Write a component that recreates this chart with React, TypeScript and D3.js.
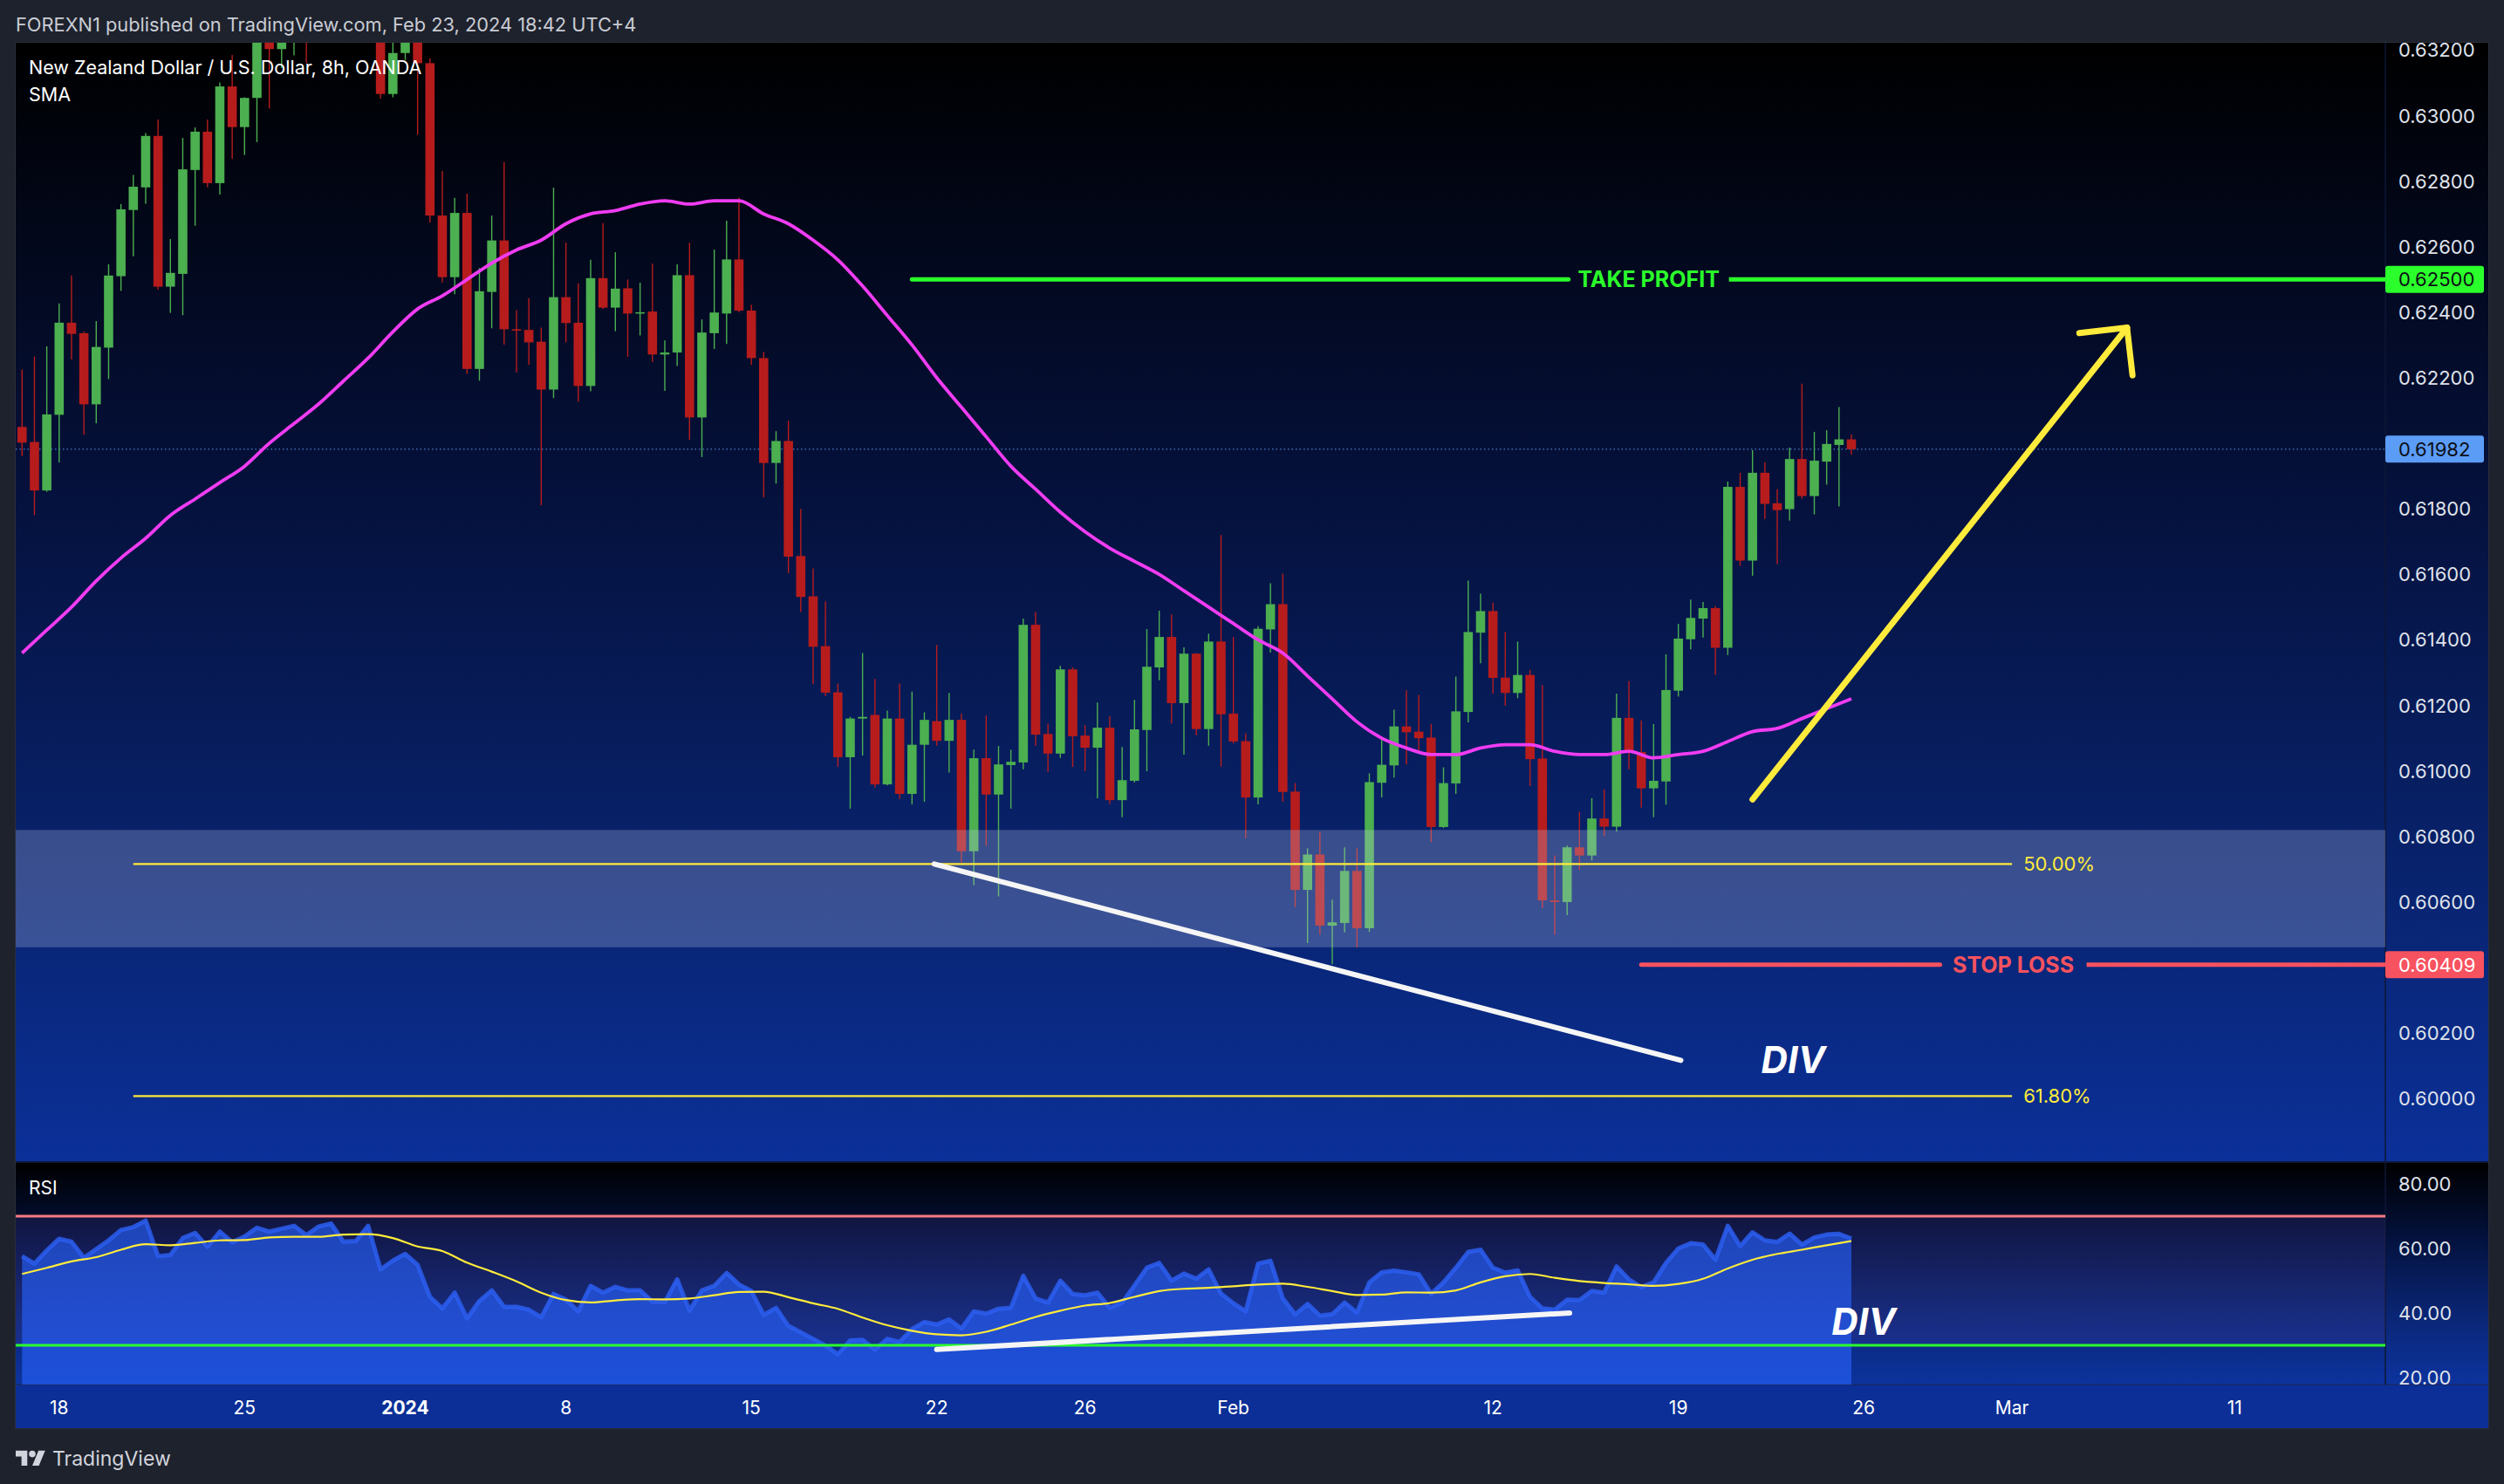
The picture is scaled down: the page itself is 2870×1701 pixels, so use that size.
import React, { useEffect } from "react";
import * as d3 from "d3";

// NZDUSD 8h candles, bar index 0..148 (bars 19-32 run above the visible range)
const opens = [
  0.6205, 0.62004, 0.61856, 0.62087, 0.62368, 0.62336, 0.62119, 0.62292, 0.6251, 0.62712,
  0.62781, 0.62938, 0.62478, 0.62517, 0.62834, 0.62951, 0.62794, 0.63089, 0.62965, 0.63054,
  0.633, 0.63203, 0.6332, 0.634, 0.633, 0.6342, 0.635, 0.634, 0.6333, 0.6338,
  0.63066, 0.63191, 0.6328, 0.6316, 0.62695, 0.62507, 0.62703, 0.62227, 0.62462, 0.62619,
  0.62348, 0.62346, 0.6231, 0.62164, 0.62446, 0.62368, 0.62175, 0.62504, 0.62414, 0.62473,
  0.62396, 0.62402, 0.62271, 0.62277, 0.62513, 0.62079, 0.62336, 0.62396, 0.62561, 0.62405,
  0.6226, 0.6194, 0.62007, 0.61656, 0.61533, 0.61381, 0.6124, 0.61042, 0.6116, 0.61171,
  0.60959, 0.6116, 0.6093, 0.6108, 0.61152, 0.61092, 0.61156, 0.60755, 0.61039, 0.60928,
  0.61018, 0.61026, 0.61446, 0.61113, 0.61053, 0.6131, 0.61108, 0.61071, 0.61132, 0.60911,
  0.6097, 0.61125, 0.61316, 0.61409, 0.61207, 0.61358, 0.61128, 0.61395, 0.61175, 0.61091,
  0.60919, 0.61432, 0.61509, 0.60937, 0.60637, 0.60745, 0.60528, 0.60536, 0.60695, 0.6052,
  0.60964, 0.61017, 0.61136, 0.6112, 0.61102, 0.60829, 0.60962, 0.6118, 0.61422, 0.61488,
  0.61285, 0.61238, 0.61293, 0.61038, 0.60605, 0.606, 0.60767, 0.60742, 0.60855, 0.6083,
  0.61162, 0.61058, 0.60947, 0.60968, 0.61245, 0.61402, 0.61465, 0.61497, 0.61376, 0.61867,
  0.61642, 0.6191, 0.61817, 0.61799, 0.61952, 0.61839, 0.61944, 0.61995, 0.62012,
];
const highs = [
  0.62225, 0.62265, 0.62296, 0.62427, 0.62512, 0.62341, 0.62373, 0.62546, 0.6273, 0.62819,
  0.62947, 0.62988, 0.62623, 0.62932, 0.62964, 0.62988, 0.63101, 0.63185, 0.63056, 0.633,
  0.6338, 0.634, 0.6345, 0.6348, 0.635, 0.6356, 0.6358, 0.6346, 0.6344, 0.6344,
  0.6326, 0.6334, 0.6334, 0.63175, 0.62831, 0.62749, 0.62762, 0.62535, 0.62695, 0.62858,
  0.62406, 0.62443, 0.62353, 0.6278, 0.62613, 0.62488, 0.6256, 0.62672, 0.62583, 0.625,
  0.6249, 0.62548, 0.62314, 0.62546, 0.62612, 0.62378, 0.62591, 0.62679, 0.6275, 0.62423,
  0.62279, 0.62037, 0.62069, 0.618, 0.61618, 0.61517, 0.61267, 0.61165, 0.6136, 0.61281,
  0.61184, 0.61267, 0.61242, 0.61179, 0.61385, 0.61238, 0.61175, 0.61065, 0.61169, 0.61076,
  0.61065, 0.61465, 0.61486, 0.61145, 0.61321, 0.61316, 0.6114, 0.61209, 0.61167, 0.61073,
  0.61217, 0.61433, 0.61489, 0.61478, 0.61377, 0.6136, 0.61419, 0.6172, 0.61409, 0.61115,
  0.61442, 0.61573, 0.61602, 0.60963, 0.60764, 0.60814, 0.60607, 0.60767, 0.60764, 0.60993,
  0.611, 0.61187, 0.61246, 0.61232, 0.61144, 0.61011, 0.61288, 0.61581, 0.61541, 0.61514,
  0.61424, 0.61395, 0.61309, 0.61262, 0.60742, 0.60772, 0.60876, 0.60917, 0.60944, 0.61236,
  0.61274, 0.61154, 0.61143, 0.61356, 0.61449, 0.61523, 0.61516, 0.61503, 0.61883, 0.6191,
  0.61979, 0.61942, 0.6186, 0.61987, 0.62182, 0.62035, 0.6204, 0.62111, 0.62027,
];
const lows = [
  0.61961, 0.61781, 0.61852, 0.61942, 0.62256, 0.62026, 0.62061, 0.62196, 0.62465, 0.62571,
  0.62731, 0.62469, 0.62398, 0.62391, 0.62664, 0.62781, 0.62759, 0.62868, 0.6288, 0.62919,
  0.63022, 0.63145, 0.63184, 0.6316, 0.6325, 0.6336, 0.6334, 0.6326, 0.6328, 0.63051,
  0.63056, 0.6317, 0.62942, 0.62674, 0.62491, 0.62455, 0.62212, 0.62191, 0.62351, 0.62301,
  0.62216, 0.62239, 0.61811, 0.62138, 0.62308, 0.62127, 0.62159, 0.6241, 0.62342, 0.62264,
  0.62329, 0.62248, 0.6216, 0.62236, 0.62011, 0.61958, 0.62288, 0.62303, 0.624, 0.62239,
  0.61835, 0.61877, 0.61604, 0.61485, 0.61265, 0.61228, 0.61013, 0.60885, 0.61047, 0.60949,
  0.60956, 0.60914, 0.60898, 0.60906, 0.61077, 0.60995, 0.6072, 0.60651, 0.60771, 0.60617,
  0.60885, 0.61005, 0.61077, 0.60997, 0.6104, 0.61012, 0.60999, 0.60917, 0.60899, 0.60859,
  0.60965, 0.60999, 0.61277, 0.61145, 0.6105, 0.61109, 0.61077, 0.61013, 0.61084, 0.60794,
  0.60898, 0.61361, 0.60906, 0.60584, 0.60475, 0.60501, 0.6041, 0.60507, 0.60461, 0.60509,
  0.60919, 0.6098, 0.6102, 0.6106, 0.60783, 0.60826, 0.6093, 0.61148, 0.61329, 0.61236,
  0.61199, 0.61222, 0.60954, 0.60581, 0.605, 0.6056, 0.60698, 0.60727, 0.60801, 0.60815,
  0.61005, 0.60888, 0.60859, 0.60897, 0.61227, 0.61371, 0.61407, 0.61293, 0.61354, 0.61626,
  0.61596, 0.61769, 0.61631, 0.61764, 0.61831, 0.61783, 0.61874, 0.61807, 0.61965,
];
const closes = [
  0.62002, 0.61856, 0.62088, 0.62368, 0.62334, 0.62119, 0.62294, 0.62512, 0.62714, 0.62783,
  0.62938, 0.62478, 0.6252, 0.62836, 0.62951, 0.62794, 0.63089, 0.62965, 0.63054, 0.6326,
  0.63203, 0.6332, 0.634, 0.633, 0.6342, 0.635, 0.634, 0.6333, 0.6338, 0.63066,
  0.63191, 0.6328, 0.6316, 0.62695, 0.62507, 0.62703, 0.62227, 0.62464, 0.62619, 0.62348,
  0.62346, 0.62308, 0.62164, 0.62446, 0.62367, 0.62175, 0.62504, 0.62414, 0.62472, 0.62396,
  0.624, 0.62271, 0.62277, 0.62513, 0.62079, 0.62338, 0.62399, 0.62561, 0.62405, 0.6226,
  0.6194, 0.62007, 0.61654, 0.61531, 0.61379, 0.61239, 0.61042, 0.6116, 0.61165, 0.60959,
  0.6116, 0.6093, 0.6108, 0.61156, 0.61092, 0.61156, 0.60755, 0.61039, 0.60928, 0.6102,
  0.61028, 0.61446, 0.61111, 0.61053, 0.6131, 0.61106, 0.61071, 0.61132, 0.60911, 0.60972,
  0.61127, 0.61318, 0.61409, 0.61207, 0.61358, 0.61128, 0.61395, 0.61173, 0.6109, 0.60919,
  0.61434, 0.61509, 0.60936, 0.60637, 0.60745, 0.60528, 0.60538, 0.60695, 0.6052, 0.60966,
  0.61019, 0.61136, 0.61118, 0.611, 0.60829, 0.60963, 0.61182, 0.61424, 0.61488, 0.61284,
  0.61238, 0.61293, 0.61036, 0.60605, 0.606, 0.60767, 0.60742, 0.60855, 0.6083, 0.61162,
  0.61058, 0.60947, 0.6097, 0.61247, 0.61404, 0.61467, 0.61497, 0.61376, 0.61867, 0.61642,
  0.6191, 0.61815, 0.61796, 0.61952, 0.61839, 0.61947, 0.61998, 0.62012, 0.61982,
];

// SMA read at every second bar (0, 2, 4 ... 148)
const smaEven = [
  0.6136, 0.6143, 0.615, 0.6158, 0.6165, 0.6171, 0.6178, 0.6183, 0.6188, 0.6193,
  0.62, 0.6206, 0.6212, 0.6219, 0.6226, 0.6234, 0.6241, 0.6245, 0.625, 0.6255,
  0.6259, 0.6262, 0.6267, 0.627, 0.6271, 0.6273, 0.6274, 0.6273, 0.6274, 0.6274,
  0.627, 0.6267, 0.6262, 0.6256, 0.6248, 0.6239, 0.623, 0.622, 0.6211, 0.6202,
  0.6193, 0.6186, 0.6179, 0.6173, 0.6168, 0.6164, 0.616, 0.6155, 0.615, 0.6145,
  0.614, 0.6136, 0.6129, 0.6122, 0.6115, 0.611, 0.6107, 0.6105, 0.6105, 0.6107,
  0.6108, 0.6108, 0.6106, 0.6105, 0.6105, 0.6106, 0.6104, 0.6105, 0.6106, 0.6109,
  0.6112, 0.6113, 0.6116, 0.6119, 0.6122,
];

// RSI per bar
const rsi = [
  57.6, 55.3, 59.4, 63.0, 62.1, 57.1, 59.8, 62.5, 65.7, 66.6,
  68.6, 57.6, 58.0, 63.2, 64.8, 60.5, 65.2, 61.9, 63.7, 66.4,
  65.2, 66.1, 67.0, 64.1, 66.8, 67.7, 62.1, 62.3, 67.0, 53.5,
  56.2, 58.3, 54.9, 45.0, 41.4, 46.3, 38.3, 43.7, 47.0, 41.9,
  41.9, 41.0, 38.7, 45.9, 44.1, 40.5, 48.4, 46.3, 48.1, 47.0,
  47.0, 43.5, 43.4, 50.4, 40.7, 47.0, 48.4, 52.4, 48.8, 46.8,
  39.4, 41.6, 36.0, 34.0, 32.0, 29.9, 27.2, 31.5, 31.7, 28.6,
  32.0, 31.0, 35.0, 37.2, 36.4, 38.0, 35.2, 40.5, 39.8, 41.3,
  41.6, 51.5, 44.5, 43.2, 50.0, 45.9, 45.5, 46.3, 41.6, 43.2,
  48.5, 54.0, 55.5, 50.0, 52.2, 50.6, 53.5, 46.0, 43.0, 40.5,
  55.3, 56.2, 44.5, 39.5, 42.8, 39.2, 39.6, 43.2, 40.1, 49.5,
  52.6, 53.1, 52.6, 52.0, 45.9, 49.5, 54.0, 58.9, 59.6, 54.0,
  52.5, 53.2, 45.0, 41.4, 41.0, 44.1, 44.0, 46.8, 46.3, 54.4,
  50.4, 48.0, 49.5, 55.5, 60.0, 61.6, 61.2, 56.5, 67.0, 60.7,
  65.0, 62.5, 62.0, 64.6, 61.2, 63.4, 64.3, 64.5, 63.0,
];

// RSI moving average read at every second bar
const rsiMaEven = [
  52.1, 54.0, 56.0, 57.3, 59.6, 61.3, 61.0, 61.7, 62.5, 62.6,
  63.4, 63.6, 63.6, 64.3, 64.4, 63.2, 60.6, 59.2, 55.6, 52.8,
  49.8, 46.3, 44.0, 43.3, 43.9, 44.3, 44.2, 44.5, 45.5, 46.5,
  46.6, 44.9, 43.0, 41.3, 38.6, 36.2, 34.5, 33.4, 33.1, 34.2,
  36.4, 38.8, 40.7, 42.3, 43.1, 45.0, 46.8, 47.5, 47.8, 48.3,
  48.8, 49.1, 48.1, 46.8, 45.6, 45.7, 46.4, 46.3, 47.0, 49.5,
  51.4, 52.1, 50.9, 49.9, 49.3, 48.9, 48.4, 49.0, 50.6, 53.8,
  56.5, 58.3, 59.6, 61.0, 62.3,
];

const priceTicks = [0.632, 0.63, 0.628, 0.626, 0.624, 0.622, 0.618, 0.616, 0.614, 0.612, 0.61, 0.608, 0.606, 0.602, 0.6];
const rsiTicks = [80, 60, 40, 20];
const timeTickBars = [3, 18, 31, 44, 59, 74, 86, 98, 119, 134, 149, 161, 179];
const timeTickLabels = ["18", "25", "2024", "8", "15", "22", "26", "Feb", "12", "19", "26", "Mar", "11"];

const lastPrice = 0.61982;
const takeProfit = 0.625;
const stopLoss = 0.60409;
const fibPrices = [0.60716, 0.60008];
const fibLabels = ["50.00%", "61.80%"];
const zonePrices = [0.6082, 0.60462];
const priceDivLine = [[73.8, 0.60716], [134.2, 0.60117]];
const rsiDivLine = [[74, 28.7], [125.2, 40.0]];
const arrowPoints = [[140, 0.60913], [170.3, 0.62353]];

const FONT = "Inter, 'Noto Sans', Roboto, sans-serif";

export default function App() {
  useEffect(() => {
    document.body.style.margin = "0";
    document.body.style.background = "#1e222d";
  }, []);

  const W = 2870, H = 1701;
  const left = 18, axisX = 2734, right = 2852;
  const mainTop = 49, mainBottom = 1331, rsiTop = 1333, rsiBottom = 1587, timeBottom = 1637;

  const x = d3.scaleLinear().domain([0, 148]).range([25.3, 2122]);
  const y = d3.scaleLinear().domain([0.6, 0.632]).range([1259.3, 57.4]);
  const yr = d3.scaleLinear().domain([20, 80]).range([1579, 1357]);

  const bodyW = 10.6;
  const evenIdx = (k: number) => k * 2;

  const smaPath = d3
    .line<number>()
    .x((_, k) => x(evenIdx(k)))
    .y((v) => y(v))
    .curve(d3.curveMonotoneX)(smaEven);

  const rsiLine = d3
    .line<number>()
    .x((_, i) => x(i))
    .y((v) => yr(v))(rsi);
  const rsiArea = d3
    .area<number>()
    .x((_, i) => x(i))
    .y0(rsiBottom)
    .y1((v) => yr(v))(rsi);
  const rsiMaPath = d3
    .line<number>()
    .x((_, k) => x(evenIdx(k)))
    .y((v) => yr(v))
    .curve(d3.curveMonotoneX)(rsiMaEven);

  // arrow
  const ax0 = x(arrowPoints[0][0]), ay0 = y(arrowPoints[0][1]);
  const ax1 = x(arrowPoints[1][0]), ay1 = y(arrowPoints[1][1]);
  const ang = Math.atan2(ay0 - ay1, ax0 - ax1);
  const armLen = 55;
  const arm = (d: number) => [ax1 + armLen * Math.cos(ang + d), ay1 + armLen * Math.sin(ang + d)];
  const armA = arm(Math.PI / 4);
  const armB = arm(-Math.PI / 4);

  const tpStart = x(72);
  const tpMid = (tpStart + axisX) / 2;
  const slStart = x(131);
  const slMid = (slStart + axisX) / 2;
  const fibStart = x(9), fibEnd = x(161);

  const axisLabelX = 2749;
  const boxW = 113, boxH = 31;

  const priceBox = (p: number, fill: string, color: string, key: string) => (
    <g key={key}>
      <rect x={axisX} y={y(p) - boxH / 2} width={boxW} height={boxH} rx={3} fill={fill} />
      <text x={axisLabelX} y={y(p)} dominantBaseline="central" fontSize={22} fill={color} fontFamily={FONT}>
        {p.toFixed(5)}
      </text>
    </g>
  );

  return (
    <svg width={W} height={H} style={{ position: "absolute", left: 0, top: 0, display: "block" }} fontFamily={FONT}>
      <defs>
        <linearGradient id="mainBg" gradientUnits="userSpaceOnUse" x1={0} y1={mainTop} x2={0} y2={mainBottom}>
          <stop offset="0" stopColor="#000000" />
          <stop offset="0.4" stopColor="#05113c" />
          <stop offset="0.75" stopColor="#08236e" />
          <stop offset="1" stopColor="#0b3099" />
        </linearGradient>
        <linearGradient id="rsiBg" gradientUnits="userSpaceOnUse" x1={0} y1={rsiTop} x2={0} y2={rsiBottom}>
          <stop offset="0" stopColor="#000000" />
          <stop offset="0.35" stopColor="#03123f" />
          <stop offset="0.7" stopColor="#0a2676" />
          <stop offset="1" stopColor="#0c339e" />
        </linearGradient>
        <clipPath id="mainClip">
          <rect x={left} y={mainTop} width={axisX - left} height={mainBottom - mainTop} />
        </clipPath>
        <clipPath id="rsiClip">
          <rect x={left} y={rsiTop} width={axisX - left} height={rsiBottom - rsiTop} />
        </clipPath>
        <clipPath id="rsiAxisClip">
          <rect x={axisX} y={rsiTop} width={right - axisX} height={rsiBottom - rsiTop} />
        </clipPath>
      </defs>

      <rect x={0} y={0} width={W} height={H} fill="#1e222d" />
      <text x={18} y={36} fontSize={21.8} fill="#c9ccd4">
        FOREXN1 published on TradingView.com, Feb 23, 2024 18:42 UTC+4
      </text>

      {/* panes */}
      <rect x={left} y={mainTop} width={right - left} height={mainBottom - mainTop} fill="url(#mainBg)" />
      <rect x={left} y={rsiTop} width={right - left} height={rsiBottom - rsiTop} fill="url(#rsiBg)" />
      <rect x={left} y={rsiBottom} width={right - left} height={timeBottom - rsiBottom} fill="#0b2f97" />
      <line x1={left} x2={right} y1={mainBottom + 1} y2={mainBottom + 1} stroke="#10183a" strokeWidth={2} />
      <line x1={left} x2={right} y1={rsiBottom} y2={rsiBottom} stroke="#1a2a66" strokeWidth={1.5} />
      <line x1={axisX} x2={axisX} y1={mainTop} y2={rsiBottom} stroke="#0e1736" strokeWidth={1.5} />
      <rect x={left - 0.5} y={mainTop - 0.5} width={right - left + 1} height={timeBottom - mainTop + 1} fill="none" stroke="#2a2e39" strokeWidth={1} />

      {/* main pane */}
      <g clipPath="url(#mainClip)">
        <line x1={left} x2={axisX} y1={y(lastPrice)} y2={y(lastPrice)} stroke="#5b9cf6" strokeWidth={1.2} strokeDasharray="1.5 3" opacity={0.8} />
        {closes.map((c, i) => {
          const o = opens[i];
          const up = c >= o;
          const col = up ? "#4caf50" : "#b71c1c";
          const top = y(Math.max(o, c));
          const bot = y(Math.min(o, c));
          return (
            <g key={i}>
              <line x1={x(i)} x2={x(i)} y1={y(highs[i])} y2={y(lows[i])} stroke={col} strokeWidth={1.4} />
              <rect x={x(i) - bodyW / 2} y={top} width={bodyW} height={Math.max(bot - top, 1.6)} fill={col} />
            </g>
          );
        })}
        <path d={smaPath ?? ""} fill="none" stroke="#f03cf2" strokeWidth={3.8} />

        <rect x={left} y={y(zonePrices[0])} width={axisX - left} height={y(zonePrices[1]) - y(zonePrices[0])} fill="rgba(200,210,245,0.26)" />

        {fibPrices.map((p, k) => (
          <g key={k}>
            <line x1={fibStart} x2={fibEnd} y1={y(p)} y2={y(p)} stroke="#ffeb3b" strokeWidth={2.2} />
            <text x={fibEnd + 13} y={y(p)} dominantBaseline="central" fontSize={22} fill="#ffeb3b">
              {fibLabels[k]}
            </text>
          </g>
        ))}

        {/* take profit */}
        <line x1={tpStart} x2={tpMid - 92} y1={y(takeProfit)} y2={y(takeProfit)} stroke="#2bff2b" strokeWidth={5} strokeLinecap="round" />
        <line x1={tpMid + 92} x2={axisX} y1={y(takeProfit)} y2={y(takeProfit)} stroke="#2bff2b" strokeWidth={5} />
        <text x={tpMid} y={y(takeProfit)} textAnchor="middle" dominantBaseline="central" fontSize={25} fontWeight={700} fill="#2bff2b">
          TAKE PROFIT
        </text>

        {/* stop loss */}
        <line x1={slStart} x2={slMid - 84} y1={y(stopLoss)} y2={y(stopLoss)} stroke="#f7525f" strokeWidth={5} strokeLinecap="round" />
        <line x1={slMid + 84} x2={axisX} y1={y(stopLoss)} y2={y(stopLoss)} stroke="#f7525f" strokeWidth={5} />
        <text x={slMid} y={y(stopLoss)} textAnchor="middle" dominantBaseline="central" fontSize={25} fontWeight={700} fill="#f7525f">
          STOP LOSS
        </text>

        {/* divergence on price */}
        <line
          x1={x(priceDivLine[0][0])}
          y1={y(priceDivLine[0][1])}
          x2={x(priceDivLine[1][0])}
          y2={y(priceDivLine[1][1])}
          stroke="#f5f5f5"
          strokeWidth={6}
          strokeLinecap="round"
        />
        <text x={x(140.7)} y={y(0.60078)} fontSize={42} fontWeight={700} fontStyle="italic" fill="#ffffff">
          DIV
        </text>

        {/* arrow */}
        <g stroke="#ffeb3b" strokeWidth={7} strokeLinecap="round" fill="none">
          <line x1={ax0} y1={ay0} x2={ax1} y2={ay1} />
          <polyline points={`${armA[0]},${armA[1]} ${ax1},${ay1} ${armB[0]},${armB[1]}`} strokeLinejoin="round" />
        </g>

        <text x={33} y={85} fontSize={21.5} fill="#ffffff">
          New Zealand Dollar / U.S. Dollar, 8h, OANDA
        </text>
        <text x={33} y={116} fontSize={21.5} fill="#ffffff">
          SMA
        </text>
      </g>

      {/* price axis */}
      {priceTicks.map((p) => (
        <text key={p} x={axisLabelX} y={y(p)} dominantBaseline="central" fontSize={22} fill="#dfe2ea">
          {p.toFixed(5)}
        </text>
      ))}
      {priceBox(takeProfit, "#2bff2b", "#0c0e15", "tp")}
      {priceBox(lastPrice, "#5b9cf6", "#0c0e15", "last")}
      {priceBox(stopLoss, "#f7525f", "#ffffff", "sl")}

      {/* RSI pane */}
      <g clipPath="url(#rsiClip)">
        <rect x={left} y={yr(70)} width={axisX - left} height={yr(30) - yr(70)} fill="rgba(126,87,194,0.13)" />
        <path d={rsiArea ?? ""} fill="rgba(41,98,255,0.62)" />
        <path d={rsiLine ?? ""} fill="none" stroke="#2c5ef0" strokeWidth={5} strokeLinejoin="round" opacity={0.85} />
        <path d={rsiMaPath ?? ""} fill="none" stroke="#ffeb3b" strokeWidth={2.2} />
        <line x1={left} x2={axisX} y1={yr(70)} y2={yr(70)} stroke="#f77c80" strokeWidth={3} />
        <line x1={left} x2={axisX} y1={yr(30)} y2={yr(30)} stroke="#2bff2b" strokeWidth={3} />
        <line
          x1={x(rsiDivLine[0][0])}
          y1={yr(rsiDivLine[0][1])}
          x2={x(rsiDivLine[1][0])}
          y2={yr(rsiDivLine[1][1])}
          stroke="#f5f5f5"
          strokeWidth={6}
          strokeLinecap="round"
        />
        <text x={x(146.4)} y={yr(33.3)} fontSize={42} fontWeight={700} fontStyle="italic" fill="#ffffff">
          DIV
        </text>
        <text x={33} y={1369} fontSize={21} fill="#ffffff">
          RSI
        </text>
      </g>
      <g clipPath="url(#rsiAxisClip)">
        {rsiTicks.map((v) => (
          <text key={v} x={axisLabelX} y={yr(v)} dominantBaseline="central" fontSize={22} fill="#dfe2ea">
            {v.toFixed(2)}
          </text>
        ))}
      </g>

      {/* time axis */}
      {timeTickBars.map((b, k) => (
        <text
          key={k}
          x={x(b)}
          y={1613}
          textAnchor="middle"
          dominantBaseline="central"
          fontSize={21}
          fontWeight={timeTickLabels[k] === "2024" ? 700 : 400}
          fill="#ffffff"
        >
          {timeTickLabels[k]}
        </text>
      ))}

      {/* logo */}
      <g transform="translate(18,1659) scale(0.95)" fill="#d1d4dc">
        <path d="M14 22H7V11H0V4h14v18zM28 22h-8l7.5-18h8L28 22z" />
        <circle cx={20} cy={8} r={4} />
      </g>
      <text x={60} y={1680} fontSize={23} fill="#d1d4dc">
        TradingView
      </text>
    </svg>
  );
}
